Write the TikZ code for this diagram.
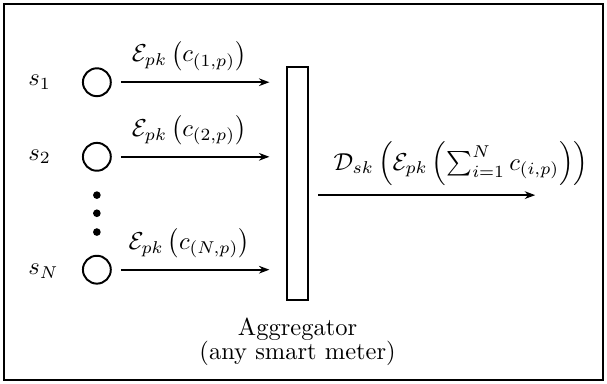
\documentclass[tikz,border=0pt]{standalone}
\usetikzlibrary{arrows.meta,positioning}

\tikzset{
  meter/.style={draw,thick,circle,minimum size=0.40cm,inner sep=0pt},
  dotmark/.style={fill,circle,minimum size=0.11cm,inner sep=0pt},
  flow/.style={thick,-{Stealth[length=1.5mm,width=1.1mm]},shorten <=0.13cm},
}

\begin{document}
\begin{tikzpicture}
  \useasboundingbox (0,0) rectangle (8.71,5.51);
  \draw[thick] (0.06,0.06) rectangle (8.65,5.45);

  % smart meters
  \node[meter] (m1) at (1.39,4.33) {};
  \node[meter] (m2) at (1.39,3.26) {};
  \node[meter] (mN) at (1.39,1.64) {};
  \node[anchor=west,inner sep=0pt] (l1) at (0.40,4.33) {$s_1$};
  \node[anchor=west,inner sep=0pt] (l2) at (0.40,3.26) {$s_2$};
  \node[anchor=west,inner sep=0pt] (lN) at (0.40,1.62) {$s_N$};
  \foreach \y/\name in {2.71/d1,2.45/d2,2.18/d3}
    \node[dotmark] (\name) at (1.39,\y) {};

  % aggregator
  \node[draw,thick,minimum width=0.30cm,minimum height=3.34cm,inner sep=0pt] (agg) at (4.27,2.88) {};
  \node[below=0.13cm of agg,align=center] (aggtext) {Aggregator\\[-2.2pt](any smart meter)};

  % encrypted readings
  \draw[flow,shorten >=0.24cm] (m1) -- (m1 -| agg.west)
    node[midway,above=1pt,xshift=-0.14cm] {$\mathcal{E}_{pk}\left(c_{(1,p)}\right)$};
  \draw[flow,shorten >=0.24cm] (m2) -- (m2 -| agg.west)
    node[midway,above=1pt,xshift=-0.14cm] {$\mathcal{E}_{pk}\left(c_{(2,p)}\right)$};
  \draw[flow,shorten >=0.24cm] (mN) -- (mN -| agg.west)
    node[midway,above=1pt,xshift=-0.14cm] {$\mathcal{E}_{pk}\left(c_{(N,p)}\right)$};

  % decrypted sum
  \coordinate (out) at (7.68,2.71);
  \draw[flow] (agg.east |- out) -- (out)
    node[midway,above=0pt,xshift=0.56cm] {$\mathcal{D}_{sk}\left(\mathcal{E}_{pk}\left(\sum_{i=1}^{N}c_{(i,p)}\right)\right)$};
\end{tikzpicture}
\end{document}
